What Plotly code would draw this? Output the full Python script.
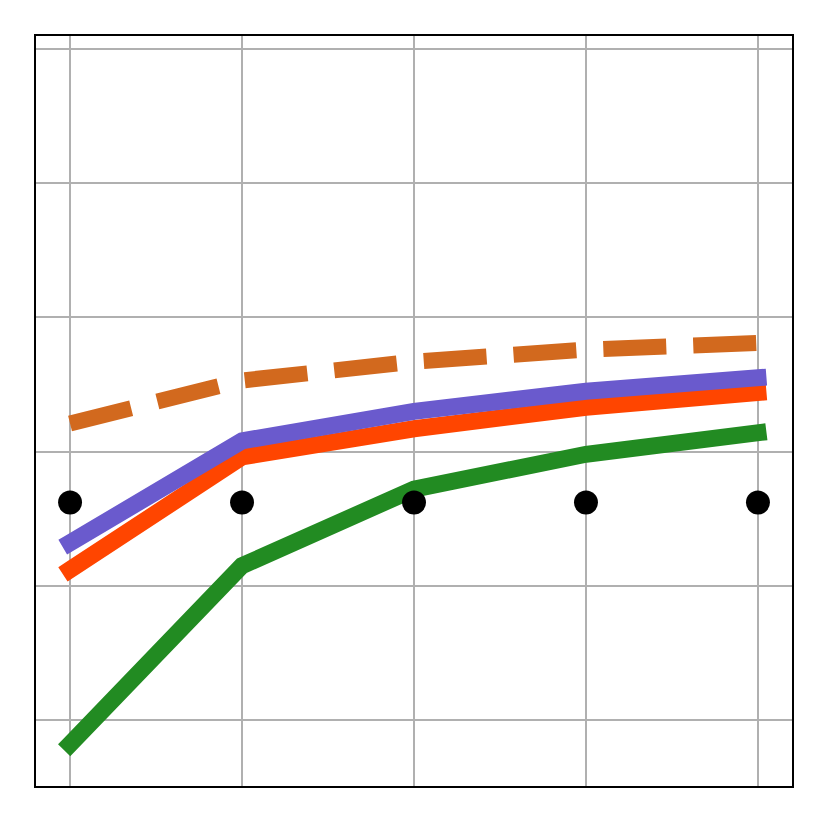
import plotly.graph_objects as go

x = [0, 1, 2, 3, 4]
green = [-0.18, 1.15, 1.72, 1.98, 2.14]
red = [1.12, 1.96, 2.17, 2.33, 2.44]
purple = [1.32, 2.08, 2.30, 2.45, 2.55]
orange = [2.21, 2.53, 2.67, 2.76, 2.81]
dots = [1.62, 1.62, 1.62, 1.62, 1.62]

fig = go.Figure()
fig.add_trace(go.Scatter(x=x, y=orange, mode="lines",
                         line=dict(color="#D2691E", width=16, dash="63px,27px")))
fig.add_trace(go.Scatter(x=x, y=green, mode="lines",
                         line=dict(color="#228B22", width=17)))
fig.add_trace(go.Scatter(x=x, y=red, mode="lines",
                         line=dict(color="#FF4500", width=17)))
fig.add_trace(go.Scatter(x=x, y=purple, mode="lines",
                         line=dict(color="#6A5ACD", width=17)))
fig.add_trace(go.Scatter(x=x, y=dots, mode="markers",
                         marker=dict(color="black", size=24)))

axis_common = dict(showticklabels=False, ticks="", showgrid=True,
                   gridcolor="#b0b0b0", gridwidth=2, zeroline=False,
                   showline=True, linecolor="black", linewidth=2, mirror=True)
fig.update_xaxes(range=[-0.198, 4.198], tickvals=[0, 1, 2, 3, 4], **axis_common)
fig.update_yaxes(range=[-0.492, 5.097], tickvals=[0, 1, 2, 3, 4, 5], **axis_common)
fig.update_layout(width=829, height=824, showlegend=False,
                  plot_bgcolor="white", paper_bgcolor="white",
                  margin=dict(l=28, r=45, t=28, b=46))

post = """
var gd = document.getElementById('{plot_id}');
function caps(){
  var tr = gd.querySelectorAll('.scatterlayer .trace');
  for (var i = 1; i <= 3 && i < tr.length; i++) {
    tr[i].querySelectorAll('path.js-line').forEach(function(p){ p.style.strokeLinecap = 'square'; });
  }
}
caps();
gd.on && gd.on('plotly_afterplot', caps);
"""
fig.write_html("out.html", post_script=post)
